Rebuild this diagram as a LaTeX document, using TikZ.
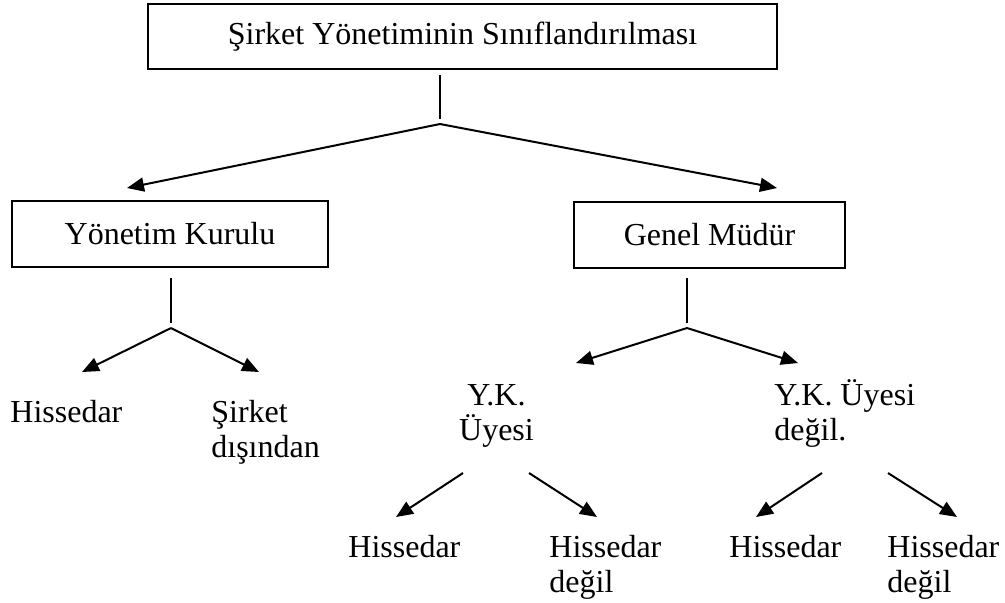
\documentclass[tikz,border=0pt]{standalone}
\usepackage{fontspec}
\setmainfont{Liberation Serif}
\usetikzlibrary{arrows.meta}
\tikzset{
  Kasten/.style={draw,line width=1.2pt,inner sep=0pt}, % Rahmen
  Text/.style={inner sep=0pt,align=left,anchor=base west}, % freie Texte
  Strich/.style={line width=1pt}, % senkrechte Striche
  Pfeil/.style={Strich,-{Triangle[length=8.5pt,width=7pt]}} % Pfeile
}

\begin{document}
\begin{tikzpicture}[x=0.5pt,y=-0.5pt,
font=\fontsize{16}{17.5}\selectfont
]
\useasboundingbox (0,0) rectangle (1005,602);

%Kaesten
\node[Kasten, minimum width=314.5pt, minimum height=32.5pt] (Titel) at (462.5,36.5) {Şirket Yönetiminin Sınıflandırılması};
\node[Kasten, minimum width=158pt, minimum height=33pt] (YK) at (170,234) {Yönetim Kurulu};
\node[Kasten, minimum width=135.5pt, minimum height=33pt] (GM) at (709.5,235) {Genel Müdür};

%Texte (Grundlinie = letzte Zeile)
\node[Text] (YKhis) at (10,422) {Hissedar};
\node[Text] (YKdis) at (211,457) {Şirket\\dışından};
\node[Text, align=center, anchor=base] (GMuye) at (496.5,440) {Y.K.\\Üyesi};
\node[Text] (GMdeg) at (774,440) {Y.K. Üyesi\\değil.};
\node[Text] (UyeHis) at (348,557) {Hissedar};
\node[Text] (UyeDeg) at (549,592) {Hissedar\\değil};
\node[Text] (DegHis) at (729,557) {Hissedar};
\node[Text] (DegDeg) at (887,592) {Hissedar\\değil};

%Hilfspunkte
\coordinate (T1) at (440,75);   \coordinate (T2) at (440,119);
\coordinate (T0) at (440,124);
\coordinate (TL) at (127,188);  \coordinate (TR) at (777,188);
\coordinate (Y1) at (171,278);  \coordinate (Y2) at (171,323);
\coordinate (Y0) at (171,328);
\coordinate (YL) at (82,372);   \coordinate (YR) at (259,372);
\coordinate (G1) at (687,278);  \coordinate (G2) at (687,323);
\coordinate (G0) at (687,328);
\coordinate (GL) at (576,363);  \coordinate (GR) at (798,363);
\coordinate (U1) at (463,473);  \coordinate (U2) at (529,473);
\coordinate (UL) at (396,517);  \coordinate (UR) at (597,517);
\coordinate (D1) at (822,473);  \coordinate (D2) at (888,473);
\coordinate (DL) at (756,517);  \coordinate (DR) at (957,517);

%Striche
\draw[Strich] (T1) -- (T2);
\draw[Strich] (Y1) -- (Y2);
\draw[Strich] (G1) -- (G2);

%Pfeile
\draw[Pfeil] (T0) -- (TL);
\draw[Pfeil] (T0) -- (TR);
\draw[Pfeil] (Y0) -- (YL);
\draw[Pfeil] (Y0) -- (YR);
\draw[Pfeil] (G0) -- (GL);
\draw[Pfeil] (G0) -- (GR);
\draw[Pfeil] (U1) -- (UL);
\draw[Pfeil] (U2) -- (UR);
\draw[Pfeil] (D1) -- (DL);
\draw[Pfeil] (D2) -- (DR);

\end{tikzpicture}
\end{document}
